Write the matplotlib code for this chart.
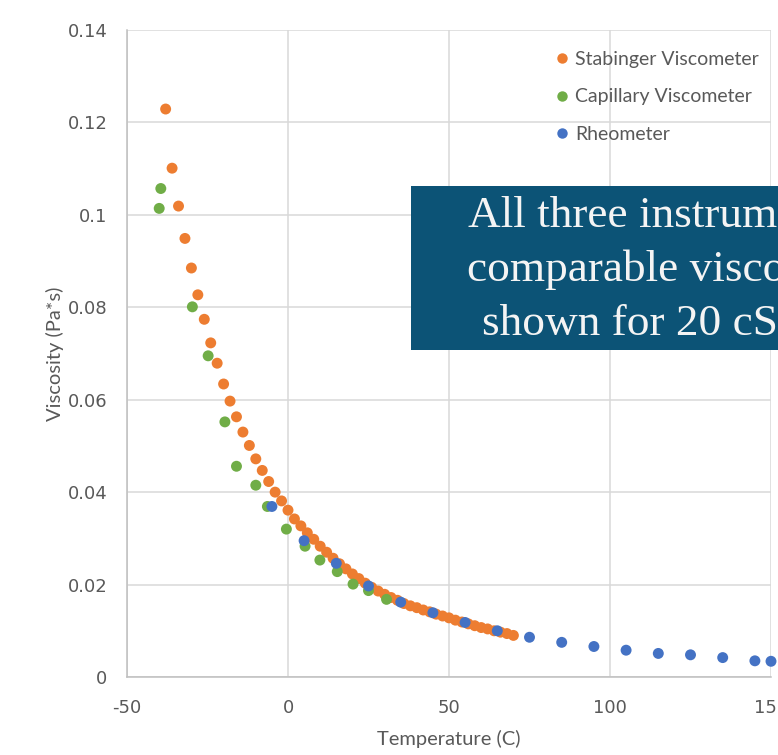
import matplotlib
matplotlib.use("Agg")
import matplotlib.pyplot as plt
from matplotlib.patches import Rectangle
from matplotlib.lines import Line2D

# ---- data ----
stabinger_temp = [-38, -36, -34, -32, -30, -28, -26, -24, -22, -20, -18, -16, -14, -12, -10,
                  -8, -6, -4, -2, 0, 2, 4, 6, 8, 10, 12, 14, 16, 18, 20, 22, 24, 26, 28, 30,
                  32, 34, 36, 38, 40, 42, 44, 46, 48, 50, 52, 54, 56, 58, 60, 62, 64, 66, 68, 70]
stabinger_visc = [0.1229, 0.1101, 0.1019, 0.0949, 0.0885, 0.0827, 0.0774, 0.0723, 0.0679, 0.0634,
                  0.0597, 0.0563, 0.0530, 0.0501, 0.0472, 0.0447, 0.0423, 0.0400, 0.0381, 0.0361,
                  0.0342, 0.0327, 0.0312, 0.0298, 0.0283, 0.0270, 0.0257, 0.0245, 0.0234, 0.0223,
                  0.0213, 0.0203, 0.0194, 0.0186, 0.0179, 0.0172, 0.0166, 0.0159, 0.0154, 0.0150,
                  0.0145, 0.0141, 0.0136, 0.0132, 0.0128, 0.0123, 0.0119, 0.0115, 0.0111, 0.0107,
                  0.0104, 0.0100, 0.0097, 0.0094, 0.0090]

capillary_temp = [-40, -39.5, -29.7, -24.8, -19.6, -16.0, -10.0, -6.4, -0.5, 5.3, 9.9, 15.3, 20.2, 25.0, 30.6]
capillary_visc = [0.1014, 0.1057, 0.0801, 0.0695, 0.0552, 0.0456, 0.0415, 0.0369, 0.0320, 0.0283,
                  0.0253, 0.0228, 0.0201, 0.0187, 0.0168]

rheometer_temp = [-5, 5, 15, 25, 35, 45, 55, 65, 75, 85, 95, 105, 115, 125, 135, 145, 150]
rheometer_visc = [0.0369, 0.0295, 0.0246, 0.0197, 0.0162, 0.0139, 0.0118, 0.0100, 0.0086, 0.0075,
                  0.0066, 0.0058, 0.0051, 0.0048, 0.0042, 0.0035, 0.0034]

series_names = ["Stabinger Viscometer", "Capillary Viscometer", "Rheometer"]
series_colors = ["#ED7D31", "#70AD47", "#4472C4"]

x_ticks = [-50, 0, 50, 100, 150]
y_ticks = [0, 0.02, 0.04, 0.06, 0.08, 0.10, 0.12, 0.14]
y_tick_labels = ["0", "0.02", "0.04", "0.06", "0.08", "0.1", "0.12", "0.14"]
x_label = "Temperature (C)"
y_label = "Viscosity (Pa*s)"
callout_lines = ["All three instrum", "comparable visco", "shown for 20 cS"]

# ---- figure ----
W, H = 778, 755
fig = plt.figure(figsize=(W / 100, H / 100), dpi=100)
ax = fig.add_axes([127 / W, (H - 677) / H, (771 - 127) / W, (677 - 30) / H])

ms = 62
for tx, vy, c in zip([stabinger_temp, capillary_temp, rheometer_temp],
                     [stabinger_visc, capillary_visc, rheometer_visc], series_colors):
    ax.scatter(tx, vy, s=ms, color=c, edgecolors="none", zorder=3, clip_on=False)

ax.set_xlim(-50, 150)
ax.set_ylim(0, 0.14)
ax.set_xticks(x_ticks)
ax.set_xticklabels([str(v) for v in x_ticks])
ax.set_yticks(y_ticks)
ax.set_yticklabels(y_tick_labels)
ax.grid(True, color="#d9d9d9", linewidth=1.1)
ax.set_axisbelow(True)
for s in ["top", "right"]:
    ax.spines[s].set_visible(False)
for s in ["left", "bottom"]:
    ax.spines[s].set_color("#bfbfbf")
    ax.spines[s].set_linewidth(1.1)
ax.tick_params(axis="y", length=0, colors="#595959", labelsize=13, pad=14)
ax.tick_params(axis="x", length=0, colors="#595959", labelsize=13, pad=16)
for lab in ax.get_xticklabels() + ax.get_yticklabels():
    lab.set_fontfamily("DejaVu Sans")
ax.set_xlabel(x_label, fontsize=14.5, color="#595959", family="Lato", labelpad=9)
ax.set_ylabel(y_label, fontsize=14.5, color="#595959", family="Lato", labelpad=3)

handles = [Line2D([0], [0], marker="o", linestyle="none", markersize=7.5,
                  markerfacecolor=c, markeredgecolor="none") for c in series_colors]
fig.legend(handles, series_names, loc="upper left", bbox_to_anchor=(555 / W, 1 - 51 / H),
           frameon=False, borderpad=0, borderaxespad=0, handlelength=0.75, handletextpad=0.3,
           labelspacing=1.05, prop={"family": "Lato", "size": 14}, labelcolor="#595959")

# callout box
box = Rectangle((411 / W, 1 - 350 / H), 0.6, (350 - 186) / H, transform=fig.transFigure,
                facecolor="#0c5376", edgecolor="none", zorder=5)
fig.patches.append(box)
for txt, x0, base in zip(callout_lines, [468, 467, 482], [227, 281, 335]):
    fig.text(x0 / W, 1 - base / H, txt, ha="left", va="baseline", color="#f4f4f4",
             family="Liberation Serif", fontsize=32.6, zorder=6)

fig.savefig("out.png", dpi=100)
